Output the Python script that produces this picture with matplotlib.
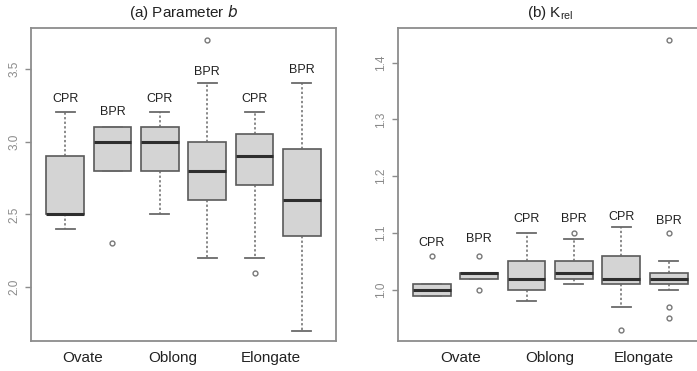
import matplotlib
matplotlib.use("Agg")
import matplotlib.pyplot as plt

plt.rcParams['font.family'] = ['Liberation Sans', 'DejaVu Sans']

groups = ["Ovate", "Oblong", "Elongate"]
box_labels = ["CPR", "BPR", "CPR", "BPR", "CPR", "BPR"]

# Panel (a): Parameter b
b_whislo = [2.4, 2.8, 2.5, 2.2, 2.2, 1.7]
b_q1 = [2.5, 2.8, 2.8, 2.6, 2.7, 2.35]
b_med = [2.5, 3.0, 3.0, 2.8, 2.9, 2.6]
b_q3 = [2.9, 3.1, 3.1, 3.0, 3.05, 2.95]
b_whishi = [3.2, 3.1, 3.2, 3.4, 3.2, 3.4]
b_fliers = [[], [2.3], [], [3.7], [2.1], []]
b_label_y = [3.29, 3.2, 3.29, 3.48, 3.29, 3.49]

# Panel (b): K_rel
k_whislo = [0.99, 1.02, 0.98, 1.01, 0.97, 1.00]
k_q1 = [0.99, 1.02, 1.00, 1.02, 1.01, 1.01]
k_med = [1.00, 1.03, 1.02, 1.03, 1.02, 1.02]
k_q3 = [1.01, 1.03, 1.05, 1.05, 1.06, 1.03]
k_whishi = [1.01, 1.03, 1.10, 1.09, 1.11, 1.05]
k_fliers = [[1.06], [1.06, 1.00], [], [1.10], [0.93], [1.10, 0.97, 0.95, 1.44]]
k_label_y = [1.083, 1.09, 1.125, 1.125, 1.129, 1.121]

fig = plt.figure(figsize=(6.97, 3.71), dpi=100)
ax1 = fig.add_axes([31/697, 1-341/371, 305/697, 313/371])
ax2 = fig.add_axes([397.7/697, 1-341/371, 305/697, 313/371])

frame_col = "#8c8c8c"
tick_col = "#8c8c8c"


def draw(ax, wlo, q1, med, q3, whi, fl, laby, ylim, yticks, grp_x, title):
    stats = []
    for i in range(len(med)):
        stats.append(dict(whislo=wlo[i], q1=q1[i], med=med[i], q3=q3[i],
                          whishi=whi[i], fliers=fl[i]))
    pos = list(range(1, len(med) + 1))
    ax.bxp(stats, positions=pos, widths=0.8, capwidths=0.4, patch_artist=True,
           boxprops=dict(facecolor="#d4d4d4", edgecolor="#5a5a5a", linewidth=1.2),
           medianprops=dict(color="#2e2e2e", linewidth=2.2),
           whiskerprops=dict(color="#6a6a6a", linewidth=1.1, linestyle=(0, (1.5, 1.5))),
           capprops=dict(color="#6a6a6a", linewidth=1.3),
           flierprops=dict(marker="o", markersize=3.5, markerfacecolor="none",
                           markeredgecolor="#777777", markeredgewidth=1.0))
    for p, lab, y in zip(pos, box_labels, laby):
        ax.text(p, y, lab, ha="center", va="center", fontsize=9, color="#222222")
    ax.set_xlim(0.28, 6.72)
    ax.set_ylim(*ylim)
    ax.set_yticks(yticks)
    ax.set_yticklabels([f"{t:.1f}" for t in yticks], rotation=90, va="center",
                       fontsize=8.5, color="#8a8a8a")
    ax.tick_params(axis="y", length=4, color=tick_col, width=1)
    ax.set_xticks([])
    for sp in ax.spines.values():
        sp.set_color(frame_col)
        sp.set_linewidth(1.3)
    for x, g in zip(grp_x, groups):
        ax.text(x, -0.055, g, transform=ax.get_xaxis_transform(), ha="center",
                va="center", fontsize=11, color="#222222")
    ax.set_title(title, fontsize=11, color="#222222", pad=8)


draw(ax1, b_whislo, b_q1, b_med, b_q3, b_whishi, b_fliers, b_label_y,
     (1.63, 3.78), [2.0, 2.5, 3.0, 3.5], [1.37, 3.27, 5.35],
     "(a) Parameter $\\mathit{b}$")
draw(ax2, k_whislo, k_q1, k_med, k_q3, k_whishi, k_fliers, k_label_y,
     (0.91, 1.461), [1.0, 1.1, 1.2, 1.3, 1.4], [1.61, 3.49, 5.48],
     "(b) K$_{\\mathregular{rel}}$")

fig.savefig("out.png", dpi=100)
